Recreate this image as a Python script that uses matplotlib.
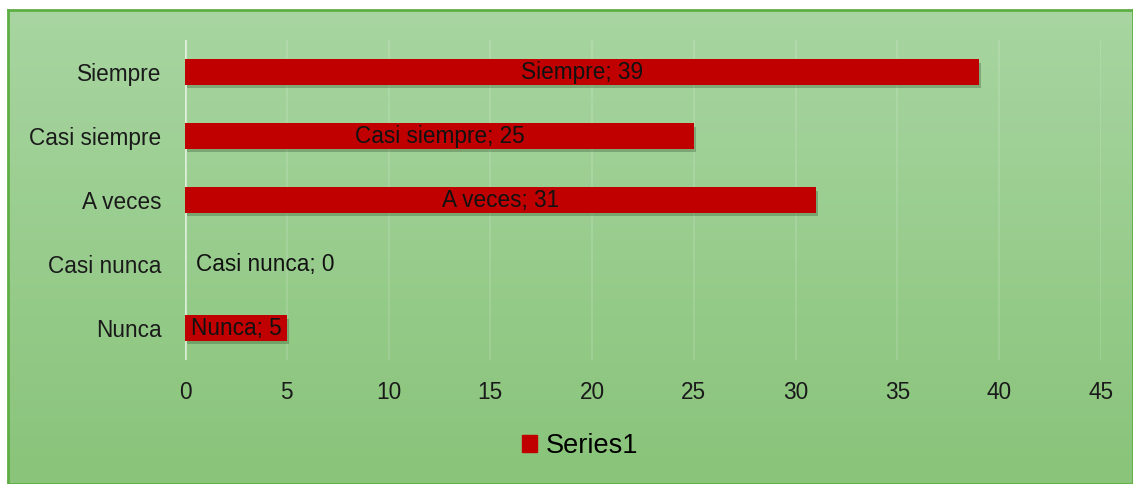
import matplotlib
matplotlib.use("Agg")
import matplotlib.pyplot as plt
import numpy as np
from matplotlib import patheffects as pe
from matplotlib.patches import Rectangle

categories = ["Nunca", "Casi nunca", "A veces", "Casi siempre", "Siempre"]
values = [5, 0, 31, 25, 39]
xticks = [0, 5, 10, 15, 20, 25, 30, 35, 40, 45]
series_name = "Series1"

plt.rcParams['font.family'] = ['Liberation Sans', 'DejaVu Sans']

W, H = 1133, 484
fig = plt.figure(figsize=(W/100, H/100), dpi=100)
fig.patch.set_facecolor("white")

# background gradient panel
bg = fig.add_axes([8/W, 0, 1 - 8/W, 1 - 10/H])
top = np.array([168, 213, 161]) / 255
bot = np.array([137, 196, 122]) / 255
t = np.linspace(0, 1, 200)[:, None]
grad = top * (1 - t) + bot * t
bg.imshow(grad[:, None, :], aspect='auto', extent=[0, 1, 0, 1])
bg.set_xlim(0, 1); bg.set_ylim(0, 1)
bg.set_xticks([]); bg.set_yticks([])
for s in bg.spines.values():
    s.set_color("#5fae45"); s.set_linewidth(2)

FS = 16.3
x0, x1 = 185, 1101
ax_top, ax_bot = 40, 360
ax = fig.add_axes([x0/W, 1 - ax_bot/H, (x1 - x0)/W, (ax_bot - ax_top)/H])
ax.set_facecolor("none")
ax.set_xlim(0, 45)
ax.set_ylim(-0.5, 4.5)
for s in ax.spines.values():
    s.set_visible(False)
ax.set_xticks(xticks)
ax.set_xticklabels([str(v) for v in xticks])
ax.tick_params(axis='both', length=0, labelsize=FS, colors="#1a1a1a")
ax.tick_params(axis='x', pad=15)
ax.tick_params(axis='y', pad=17)
ax.set_yticks(range(len(categories)))
ax.set_yticklabels(categories)
ax.grid(axis='x', color="white", alpha=0.15, linewidth=1.2)
ax.set_axisbelow(True)
ax.axvline(0, color="white", alpha=0.6, linewidth=2, zorder=1)

bars = ax.barh(range(len(categories)), values, height=0.4, color="#C00000", zorder=3,
               label=series_name)
for b in bars:
    b.set_path_effects([pe.SimplePatchShadow(offset=(1.5, -2.5), shadow_rgbFace="#2a4a25", alpha=0.3),
                        pe.Normal()])

for i, (c, v) in enumerate(zip(categories, values)):
    txt = f"{c}; {v}"
    if v > 0:
        ax.text(v / 2, i, txt, ha='center', va='center', fontsize=FS, color="#111111", zorder=4)
    else:
        ax.annotate(txt, (0, i), xytext=(8, 0), textcoords='offset points',
                    ha='left', va='center', fontsize=FS, color="#111111", zorder=4)

fig.legend(handles=[Rectangle((0, 0), 1, 1, color="#C00000")], labels=[series_name],
           loc='center', bbox_to_anchor=(580/W, 1 - 446/H), frameon=False,
           fontsize=19.5, handlelength=0.55, handleheight=0.55, handletextpad=0.3)

fig.savefig("out.png", dpi=100)
